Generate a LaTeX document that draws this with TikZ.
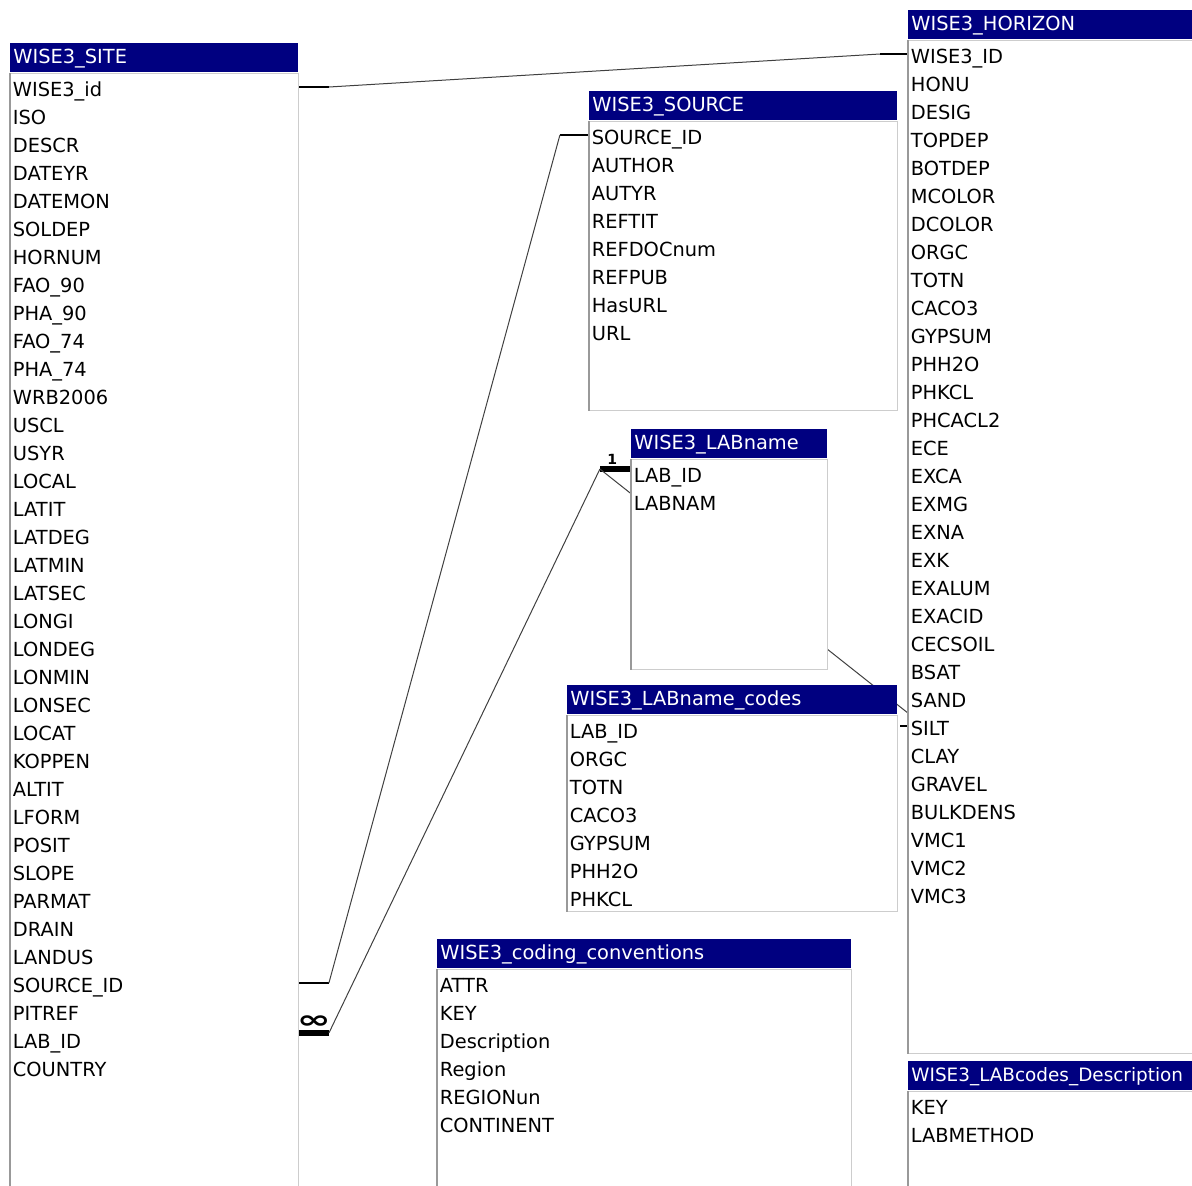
\documentclass[tikz,border=0pt]{standalone}
\usepackage{fontspec}
\setmainfont{DejaVu Sans}
\usetikzlibrary{positioning,backgrounds}
\definecolor{tblhead}{RGB}{0,0,128}
\definecolor{tblline}{RGB}{205,205,205}
\newcommand{\tblfont}{\fontsize{9.7}{11}\selectfont}
\tikzset{
  thead/.style={fill=tblhead, text=white, anchor=north west, inner xsep=1.5pt, inner ysep=0pt,
    minimum height=14.5pt, text height=7.3pt, text depth=2pt, text width=#1},
  tbody/.style={draw=tblline, fill=white, inner sep=0pt, line width=0.5pt},
  tedge/.style={draw=black!40, line width=1pt},
  field/.style={anchor=base west, inner sep=0pt, text height=9pt, text depth=0pt},
  rel/.style={line width=0.5pt, draw=black!75},
  stub/.style={line width=1.3pt},
  onebar/.style={line width=2.6pt}
}

\begin{document}
\begin{tikzpicture}[x=0.5pt, y=-0.5pt, every node/.style={font=\tblfont}]
\useasboundingbox (0,0) rectangle (1192,1185);
\clip (0,0) rectangle (1192,1185);

% tables
\node[thead=141pt] (site) at (10,43) {WISE3\_SITE};
\node[tbody, minimum width=144pt, minimum height=564pt, below=0pt of site] (site-b) {};
\foreach \f [count=\i from 0] in {WISE3\_id,ISO,DESCR,DATEYR,DATEMON,SOLDEP,HORNUM,FAO\_90,PHA\_90,
    FAO\_74,PHA\_74,WRB2006,USCL,USYR,LOCAL,LATIT,LATDEG,LATMIN,LATSEC,LONGI,LONDEG,LONMIN,
    LONSEC,LOCAT,KOPPEN,ALTIT,LFORM,POSIT,SLOPE,PARMAT,DRAIN,LANDUS,SOURCE\_ID,PITREF,LAB\_ID,COUNTRY}
  \node[field] (site-\i) at (12.5,{96+28*\i}) {\f};

\node[thead=143pt] (hor) at (908,10) {WISE3\_HORIZON};
\node[tbody, minimum width=146pt, minimum height=506.5pt, below=0pt of hor] (hor-b) {};
\foreach \f [count=\i from 0] in {WISE3\_ID,HONU,DESIG,TOPDEP,BOTDEP,MCOLOR,DCOLOR,ORGC,TOTN,CACO3,
    GYPSUM,PHH2O,PHKCL,PHCACL2,ECE,EXCA,EXMG,EXNA,EXK,EXALUM,EXACID,CECSOIL,BSAT,SAND,SILT,
    CLAY,GRAVEL,BULKDENS,VMC1,VMC2,VMC3}
  \node[field] (hor-\i) at (910.5,{63+28*\i}) {\f};

\node[thead=151pt] (src) at (589,91) {WISE3\_SOURCE};
\node[tbody, minimum width=154pt, minimum height=144.5pt, below=0pt of src] (src-b) {};
\foreach \f [count=\i from 0] in {SOURCE\_ID,AUTHOR,AUTYR,REFTIT,REFDOCnum,REFPUB,HasURL,URL}
  \node[field] (src-\i) at (591.5,{144+28*\i}) {\f};

\node[thead=95pt] (lab) at (631,429) {WISE3\_LABname};
\node[tbody, minimum width=98pt, minimum height=105pt, below=0pt of lab] (lab-b) {};
\foreach \f [count=\i from 0] in {LAB\_ID,LABNAM}
  \node[field] (lab-\i) at (633.5,{482+28*\i}) {\f};

\node[thead=162pt] (codes) at (567,685) {WISE3\_LABname\_codes};
\node[tbody, minimum width=165pt, minimum height=98pt, below=0pt of codes] (codes-b) {};
\foreach \f [count=\i from 0] in {LAB\_ID,ORGC,TOTN,CACO3,GYPSUM,PHH2O,PHKCL}
  \node[field] (codes-\i) at (569.5,{738+28*\i}) {\f};

\node[thead=204pt] (conv) at (437,939) {WISE3\_coding\_conventions};
\node[tbody, minimum width=207pt, minimum height=116pt, below=0pt of conv] (conv-b) {};
\foreach \f [count=\i from 0] in {ATTR,KEY,Description,Region,REGIONun,CONTINENT}
  \node[field] (conv-\i) at (439.5,{992+28*\i}) {\f};

\node[thead=143pt, font=\fontsize{9.2}{11}\selectfont] (desc) at (908,1061) {WISE3\_LABcodes\_Description};
\node[tbody, minimum width=146pt, minimum height=55pt, below=0pt of desc] (desc-b) {};
\foreach \f [count=\i from 0] in {KEY,LABMETHOD}
  \node[field] (desc-\i) at (910.5,{1114+28*\i}) {\f};

\foreach \b in {site-b,hor-b,src-b,lab-b,codes-b,conv-b,desc-b}
  \draw[tedge] (\b.north west) -- (\b.south west);

% relations
\begin{pgfonlayer}{background}
\draw[stub] (site-0.west -| site-b.east) -- ++(30,0) coordinate (r1a);
\draw[stub] (hor-0.west -| hor-b.west) -- ++(-28,0) coordinate (r1b);
\draw[rel] (r1a) -- (r1b);

\draw[stub] (site-32.west -| site-b.east) -- ++(30,0) coordinate (r2a);
\draw[stub] (src-0.west -| src-b.west) -- ++(-29,0) coordinate (r2b);
\draw[rel] (r2a) -- (r2b);

\draw[onebar] ([yshift=3pt]site-34.west -| site-b.east) -- ++(30,0) coordinate (r3a)
  node[pos=0.5, above=0.8pt, inner sep=0pt] {\scalebox{2.1}[1.3]{\bfseries ∞}};
\draw[onebar] ([yshift=2pt]lab-0.west -| lab-b.west) -- ++(-31,0) coordinate (r3b)
  node[pos=0.6, above=1pt, inner sep=0pt, font=\bfseries\scriptsize] {1};
\draw[rel] (r3a) -- (r3b);
\draw[rel] (r3b) -- ([yshift=6.5pt]hor-24.west -| hor-b.west);
\draw[stub] (hor-24.west -| hor-b.west) -- ++(-8,0);
\end{pgfonlayer}
\end{tikzpicture}
\end{document}
